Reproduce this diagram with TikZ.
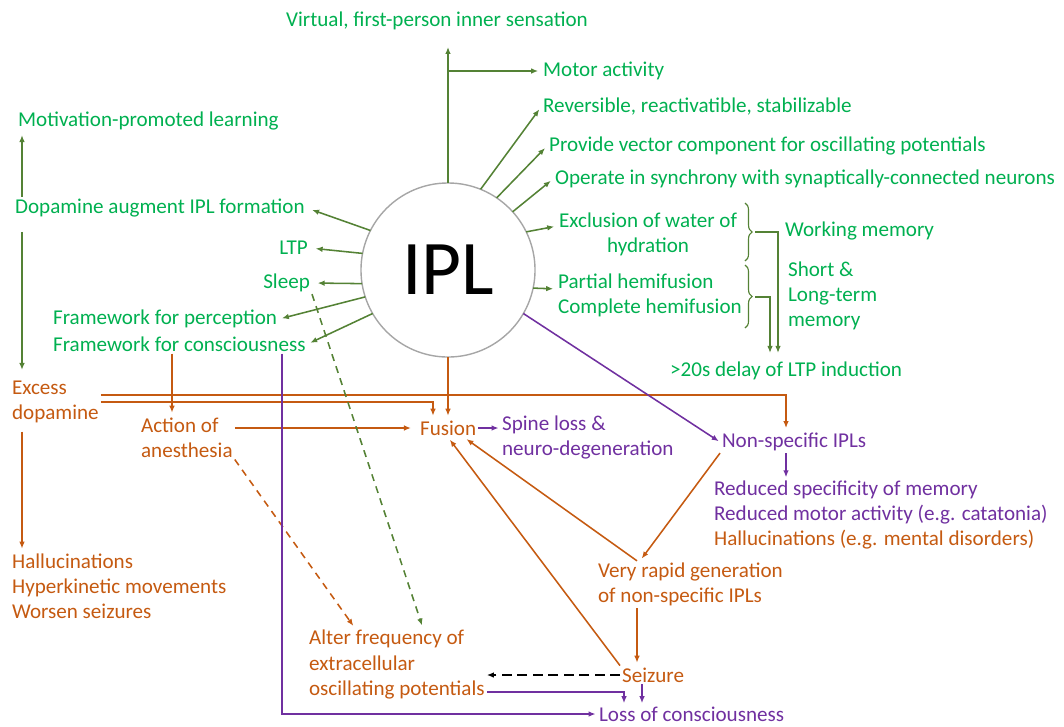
\documentclass[tikz,border=0pt]{standalone}
\usepackage{fontspec}
\setmainfont{Carlito}
\usepackage{tikz}
\usetikzlibrary{positioning}
\usetikzlibrary{arrows.meta}
\usetikzlibrary{calc}
\usetikzlibrary{decorations.pathreplacing}

\definecolor{txtgreen}{RGB}{0,176,80}
\definecolor{arrgreen}{RGB}{84,130,53}
\definecolor{fusorange}{RGB}{197,90,17}
\definecolor{lospurple}{RGB}{112,48,160}
\definecolor{ringgray}{RGB}{166,166,166}

\begin{document}
\begin{tikzpicture}[ x = 0.025cm
                   , y = -0.025cm
                   , font = \fontsize{15}{17.8}\selectfont
                   , >={Latex[width=4pt, length=5pt]}
                   , line width = 1.1pt
                   , every node/.style = { inner sep = 1.5pt
                                       , outer sep = 0pt
                                       , align = left }
                   ]
  \useasboundingbox (0,0) rectangle (1064,726);

  %%
  %% Styles
  %%
  \tikzset{ gtext/.style={text=txtgreen}
          , otext/.style={text=fusorange}
          , ptext/.style={text=lospurple}
          , gline/.style={draw=arrgreen, ->, shorten >=2pt}
          , oline/.style={draw=fusorange, ->, shorten >=2pt}
          , pline/.style={draw=lospurple, ->, shorten >=1pt}
          , hint/.style={dash pattern=on 5pt off 4pt}
          }

  %%
  %% Nodes
  %%
  \node (ipl) [circle, draw=ringgray, line width=1pt, minimum size=4.35cm,
               font=\fontsize{55}{60}\selectfont] at (448,270) {IPL};

  % around the IPL (green)
  \node (virt) [gtext] at (437,21) {Virtual, first-person inner sensation};
  \node (motor) [gtext, anchor=west] at (541,71) {Motor activity};
  \node (rev) [gtext, anchor=west] at (541,107) {Reversible, reactivatible, stabilizable};
  \node (vec) [gtext, anchor=west] at (547,146) {Provide vector component for oscillating potentials};
  \node (sync) [gtext, anchor=west] at (553,179) {Operate in synchrony with synaptically-connected neurons};
  \node (excl) [gtext, anchor=west, align=center] at (557,234) {Exclusion of water of\\hydration};
  \node (hemi) [gtext, anchor=west] at (556,295.5) {Partial hemifusion\\Complete hemifusion};
  \node (wmem) [gtext, anchor=west] at (783,231) {Working memory};
  \node (ltmem) [gtext, anchor=west] at (786,296) {Short \&\\Long-term\\memory};
  \node (delay) [gtext, anchor=west] at (668,371) {>20s delay of LTP induction};

  \node (motiv) [gtext, anchor=west] at (16,121) {Motivation-promoted learning};
  \node (dopa) [gtext, anchor=west] at (13,208) {Dopamine augment IPL formation};
  \node (ltp) [gtext, anchor=east] at (310,248) {LTP};
  \node (sleep) [gtext, anchor=east] at (312,283) {Sleep};
  \node (frameP) [gtext, anchor=west] at (51,319) {Framework for perception};
  \node (frameC) [gtext, anchor=west] at (51,344) {Framework for consciousness};

  % consequences (orange / purple)
  \node (excess) [otext, anchor=west] at (10,401.5) {Excess\\dopamine};
  \node (halluc) [otext, anchor=west] at (10,586) {Hallucinations\\Hyperkinetic movements\\Worsen seizures};
  \node (anest) [otext, anchor=west] at (139,437.5) {Action of\\anesthesia};
  \node (fusion) [otext, anchor=west] at (418,428) {Fusion};
  \node (spine) [ptext, anchor=west] at (500,437.5) {Spine loss \&\\neuro-degeneration};
  \node (nonspec) [ptext, anchor=west] at (720,442) {Non-specific IPLs};
  \node (reduced) [ptext, anchor=west] at (712,515) {Reduced specificity of memory\\Reduced motor activity (e.g. catatonia)\\\textcolor{fusorange}{Hallucinations (e.g. mental disorders)}};
  \node (rapid) [otext, anchor=west] at (596,584.5) {Very rapid generation\\of non-specific IPLs};
  \node (seizure) [otext, anchor=west] at (620,675) {Seizure};
  \node (alter) [otext, anchor=west] at (307,664.5) {Alter frequency of\\extracellular\\oscillating potentials};
  \node (loss) [ptext, anchor=west] at (597,714) {Loss of consciousness};

  % columns for the straight connectors
  \coordinate (dcol) at (22,0);
  \coordinate (acol) at (172,0);
  \coordinate (pcol) at (282,0);
  \coordinate (fcol) at (433,0);
  \coordinate (rcol) at (640,0);
  \coordinate (scol) at (637,0);
  \coordinate (lcolA) at (624,0);
  \coordinate (lcolB) at (642,0);
  \coordinate (ncol) at (786,0);
  \coordinate (scol2) at (770,0);
  \coordinate (wcol) at (778,0);
  \coordinate (wtip) at (755,232);
  \coordinate (stip) at (755,297);

  %%
  %% Arrows out of the IPL
  %%
  \draw[gline] (ipl.north) -- ($(ipl.north |- virt.south)+(0,12)$);
  \draw[gline] (ipl.north |- motor.west) -- (motor.west);
  \draw[gline] (ipl.68) -- (rev.west);
  \draw[gline] (ipl.56) -- (vec.west);
  \draw[gline] (ipl.42) -- (sync.west);
  \draw[gline] (ipl.26) -- (excl.175);
  \draw[gline] (ipl.-12) -- (hemi.176);

  \draw[gline, shorten >=4pt] (ipl.153) -- (dopa.east);
  \draw[gline, shorten >=4pt] (ipl.169) -- (ltp.east);
  \draw[gline, shorten >=4pt] (ipl.189) -- (sleep.east);
  \draw[gline] (ipl.198) -- (frameP.east);
  \draw[gline] (ipl.210) -- (frameC.east);

  % braces and memory
  \draw[arrgreen, line width=0.8pt, decorate, decoration={brace, amplitude=5pt}]
       (745,203) -- (745,261);
  \draw[arrgreen, line width=0.8pt, decorate, decoration={brace, amplitude=5pt}]
       (745,265) -- (745,328);
  \draw[gline, line width=0.8pt, shorten >=5pt] (wtip) -| (delay.north -| wcol);
  \draw[gline, line width=0.8pt, shorten >=5pt] (stip) -| (delay.north -| scol2);

  % dopamine
  \draw[gline] (dopa.north -| dcol) -- (motiv.south -| dcol);
  \draw[gline, shorten <=9pt, shorten >=6pt] (dopa.south -| dcol) -- (excess.north -| dcol);
  \draw[oline, shorten <=5pt] (excess.south -| dcol) -- (halluc.north -| dcol);
  \draw[oline] (excess.east |- 0,395) -| (nonspec.north -| ncol);
  \draw[oline] (excess.east |- 0,402) -| (fusion.north -| fcol);

  %%
  %% Fusion and seizure
  %%
  \draw[oline] (ipl.south) -- (ipl.south |- fusion.north);
  \draw[oline] (frameC.south -| acol) -- (anest.north -| acol);
  \draw[oline, shorten >=5pt] (anest.east |- fusion.west) -- (fusion.west);
  \draw[pline] (fusion.east) -- (fusion.east -| spine.west);
  \draw[pline] (ipl.-30) -- (nonspec.west);
  \draw[pline] (nonspec.south -| ncol) -- (reduced.north -| ncol);
  \draw[oline] (nonspec.south west) -- (rapid.north -| rcol);
  \draw[oline] (rapid.north -| scol) -- ($(fusion.south)+(16,0)$);
  \draw[oline] (rapid.south -| scol) -- (seizure.north -| scol);
  \draw[oline] (seizure.north west) -- (fusion.south);
  \draw[->, dash pattern=on 7pt off 4pt] (seizure.west) -- (alter.east |- seizure.west);

  \draw[gline, hint] (sleep.south east) -- (alter.north -| 423,0);
  \draw[oline, hint] (anest.south east) -- (alter.north -| 355,0);

  % loss of consciousness
  \draw[pline] (alter.east |- 0,692) -| (loss.north -| lcolA);
  \draw[pline] (seizure.south -| lcolB) -- (loss.north -| lcolB);
  \draw[pline] (frameC.south -| pcol) |- (loss.west);
\end{tikzpicture}
\end{document}
